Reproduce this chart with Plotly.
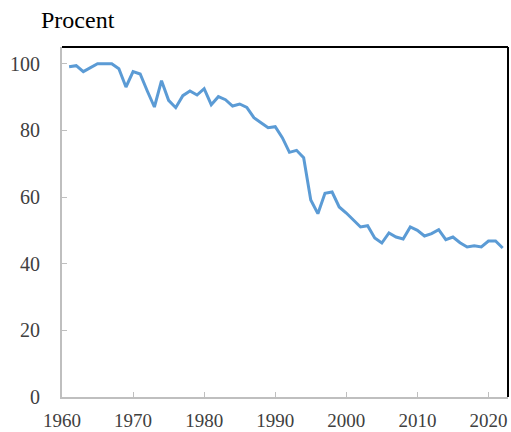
import plotly.graph_objects as go

years = list(range(1961, 2023))
values = [99.1, 99.4, 97.6, 98.8, 100.0, 100.0, 100.0, 98.5, 93.0, 97.6,
          96.9, 91.8, 87.0, 94.9, 89.0, 86.8, 90.4, 91.8, 90.6, 92.5,
          87.7, 90.1, 89.2, 87.3, 87.9, 86.9, 83.8, 82.3, 80.8, 81.1,
          77.8, 73.4, 74.0, 71.8, 59.1, 55.0, 61.1, 61.5, 57.0, 55.2,
          53.2, 51.0, 51.4, 47.7, 46.2, 49.2, 48.0, 47.4, 51.0, 50.0,
          48.3, 49.0, 50.2, 47.2, 48.0, 46.3, 45.0, 45.4, 45.0, 46.8,
          46.8, 44.7]
x_ticks = [1960, 1970, 1980, 1990, 2000, 2010, 2020]
y_ticks = [0, 20, 40, 60, 80, 100]

font = "Liberation Serif, Times New Roman, serif"

fig = go.Figure()
fig.add_trace(go.Scatter(x=years, y=values, mode="lines",
                         line=dict(color="#5B9BD5", width=3),
                         hoverinfo="x+y"))

fig.update_layout(
    width=511, height=432,
    margin=dict(l=62, r=3, t=47, b=35),
    paper_bgcolor="white", plot_bgcolor="white",
    showlegend=False,
    font=dict(family=font, size=20, color="#404040"),
    xaxis=dict(range=[1960, 2022.75], tickvals=x_ticks, showgrid=False,
               zeroline=False, showline=True, linecolor="#BFBFBF", linewidth=2,
               ticks="inside", ticklen=5, tickcolor="#BFBFBF", tickwidth=1,
               ticklabelstandoff=5, automargin=False,
               tickfont=dict(family=font, size=19, color="#404040")),
    yaxis=dict(range=[0, 105], tickvals=y_ticks, showgrid=False,
               zeroline=False, showline=True, linecolor="#BFBFBF", linewidth=2,
               ticks="inside", ticklen=5, tickcolor="#BFBFBF", tickwidth=1,
               ticklabelstandoff=16, automargin=False,
               tickfont=dict(family=font, size=20, color="#404040")),
    shapes=[
        dict(type="line", xref="paper", yref="paper", x0=0, x1=1, y0=1, y1=1,
             line=dict(color="black", width=2)),
        dict(type="line", xref="paper", yref="paper", x0=1, x1=1, y0=0, y1=1,
             line=dict(color="black", width=2)),
    ],
    annotations=[
        dict(text="Procent", xref="paper", yref="paper", x=-0.052, y=1.0,
             xanchor="left", yanchor="bottom", yshift=12, showarrow=False,
             font=dict(family=font, size=24, color="black")),
    ],
)

fig.write_html(
    "out.html",
    config={"displayModeBar": False},
    post_script=(
        "document.body.style.margin='0';"
        "document.body.style.overflow='hidden';"
        "document.documentElement.style.overflow='hidden';"
    ),
)
